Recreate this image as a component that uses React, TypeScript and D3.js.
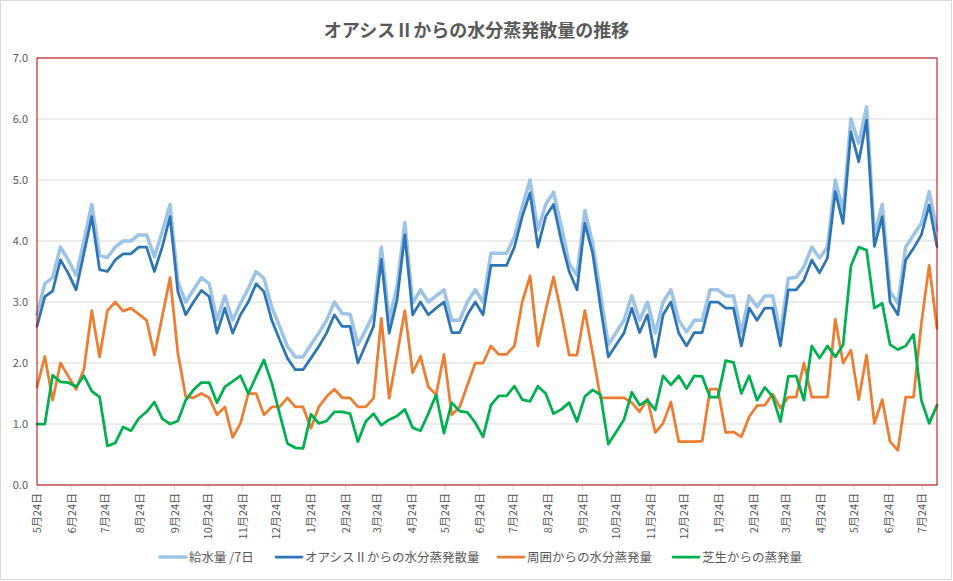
import React from "react";
import * as d3 from "d3";

const START = new Date(2018, 4, 24);
const WEEKS = 116;

const supply = [2.8, 3.3, 3.4, 3.9, 3.69, 3.44, 4.0, 4.6, 3.76, 3.73, 3.9, 4.0, 4.0, 4.1, 4.1, 3.74, 4.15, 4.6, 3.33, 3.0,
  3.2, 3.4, 3.3, 2.7, 3.1, 2.7, 2.98, 3.22, 3.5, 3.39, 2.92, 2.6, 2.27, 2.1, 2.1, 2.3, 2.49, 2.7, 3.0, 2.81,
  2.8, 2.3, 2.54, 2.81, 3.9, 2.7, 3.25, 4.3, 2.98, 3.2, 3.0, 3.1, 3.2, 2.7, 2.7, 3.0, 3.2, 3.0, 3.8, 3.8,
  3.8, 4.07, 4.56, 5.0, 4.18, 4.6, 4.8, 4.24, 3.63, 3.44, 4.5, 3.96, 3.14, 2.3, 2.5, 2.7, 3.1, 2.7, 3.0, 2.49,
  3.0, 3.2, 2.7, 2.51, 2.7, 2.7, 3.2, 3.2, 3.1, 3.1, 2.5, 3.1, 2.92, 3.1, 3.1, 2.49, 3.39, 3.4, 3.58, 3.9,
  3.72, 3.9, 5.0, 4.5, 6.0, 5.6, 6.2, 4.1, 4.6, 3.17, 2.98, 3.9, 4.1, 4.29, 4.81, 4.18];

const oasis = [2.6, 3.09, 3.18, 3.69, 3.47, 3.2, 3.8, 4.4, 3.53, 3.5, 3.69, 3.79, 3.79, 3.9, 3.9, 3.5, 3.9, 4.4, 3.17, 2.79,
  3.0, 3.19, 3.09, 2.49, 2.9, 2.49, 2.79, 3.0, 3.3, 3.17, 2.7, 2.38, 2.08, 1.89, 1.89, 2.08, 2.27, 2.49, 2.79, 2.6,
  2.6, 2.0, 2.3, 2.6, 3.7, 2.49, 3.03, 4.1, 2.79, 3.0, 2.79, 2.9, 3.0, 2.5, 2.5, 2.79, 3.0, 2.79, 3.6, 3.6,
  3.6, 3.9, 4.4, 4.79, 3.9, 4.4, 4.6, 4.0, 3.5, 3.2, 4.29, 3.8, 2.92, 2.1, 2.3, 2.49, 2.9, 2.5, 2.79, 2.1,
  2.79, 3.0, 2.49, 2.28, 2.5, 2.5, 3.0, 3.0, 2.9, 2.9, 2.28, 2.9, 2.7, 2.9, 2.9, 2.28, 3.2, 3.2, 3.36, 3.69,
  3.48, 3.72, 4.81, 4.29, 5.79, 5.3, 5.98, 3.91, 4.4, 3.0, 2.79, 3.69, 3.88, 4.1, 4.59, 3.91];

const surround = [1.61, 2.11, 1.39, 2.0, 1.78, 1.57, 1.9, 2.86, 2.1, 2.86, 3.0, 2.85, 2.9, 2.8, 2.7, 2.13, 2.76, 3.4, 2.16, 1.45,
  1.43, 1.5, 1.43, 1.15, 1.28, 0.78, 1.01, 1.5, 1.5, 1.15, 1.28, 1.28, 1.43, 1.28, 1.28, 0.93, 1.28, 1.45, 1.57, 1.43,
  1.43, 1.28, 1.28, 1.42, 2.73, 1.42, 2.13, 2.86, 1.84, 2.11, 1.61, 1.48, 2.14, 1.15, 1.28, 1.64, 2.0, 2.0, 2.28, 2.14,
  2.14, 2.28, 3.0, 3.43, 2.28, 2.87, 3.41, 2.81, 2.13, 2.13, 2.86, 2.16, 1.43, 1.43, 1.43, 1.43, 1.35, 1.2, 1.41, 0.86,
  1.01, 1.36, 0.71, 0.71, 0.71, 0.72, 1.57, 1.57, 0.86, 0.87, 0.79, 1.12, 1.3, 1.31, 1.49, 1.26, 1.44, 1.44, 2.0, 1.44,
  1.44, 1.44, 2.72, 2.0, 2.21, 1.4, 2.13, 1.01, 1.4, 0.71, 0.57, 1.44, 1.44, 2.65, 3.6, 2.57];

const turf = [1.0, 1.0, 1.8, 1.69, 1.68, 1.61, 1.79, 1.54, 1.44, 0.64, 0.69, 0.95, 0.89, 1.09, 1.2, 1.36, 1.09, 1.0, 1.05, 1.39,
  1.56, 1.68, 1.68, 1.35, 1.61, 1.7, 1.79, 1.5, 1.78, 2.05, 1.67, 1.17, 0.68, 0.61, 0.6, 1.16, 1.01, 1.05, 1.2, 1.2,
  1.17, 0.71, 1.04, 1.17, 0.98, 1.07, 1.13, 1.24, 0.94, 0.89, 1.17, 1.48, 0.85, 1.35, 1.21, 1.19, 1.02, 0.79, 1.31, 1.46,
  1.46, 1.62, 1.4, 1.37, 1.62, 1.5, 1.17, 1.24, 1.35, 1.04, 1.45, 1.56, 1.48, 0.67, 0.87, 1.07, 1.52, 1.31, 1.39, 1.23,
  1.79, 1.64, 1.79, 1.58, 1.79, 1.78, 1.44, 1.44, 2.04, 2.01, 1.5, 1.79, 1.39, 1.6, 1.45, 1.04, 1.78, 1.79, 1.39, 2.28,
  2.08, 2.28, 2.1, 2.3, 3.59, 3.9, 3.85, 2.9, 2.98, 2.3, 2.22, 2.28, 2.47, 1.39, 1.01, 1.31];

const yTicks = [0, 1, 2, 3, 4, 5, 6, 7];
const seriesNames = ["給水量 /7日", "オアシスⅡからの水分蒸発散量", "周囲からの水分蒸発量", "芝生からの蒸発量"];
const seriesColors = ["#9DC3E6", "#2E75B6", "#ED7D31", "#00B050"];
const seriesWidths = [3.5, 2.75, 2.75, 2.75];
const seriesData = [supply, oasis, surround, turf];
const title = "オアシスⅡからの水分蒸発散量の推移";

const W = 953, H = 581;
const M = { left: 37, right: 937, top: 58, bottom: 485 };
const FONT = "'Noto Sans CJK JP', 'Noto Sans', sans-serif";

export default function App() {
  const dates = d3.range(WEEKS).map((i) => d3.timeDay.offset(START, i * 7));
  const x = d3.scaleTime().domain([dates[0], dates[dates.length - 1]]).range([M.left, M.right]);
  const y = d3.scaleLinear().domain([0, 7]).range([M.bottom, M.top]);
  const monthTicks = d3.range(0, 27).map((i) => d3.timeMonth.offset(START, i));
  const line = d3.line<number>().x((_, i) => x(dates[i])).y((v) => y(v));
  const legendX = [160, 276, 498, 673];

  return (
    <svg width={W} height={H} style={{ position: "absolute", left: 0, top: 0 }} fontFamily={FONT}>
      <rect x={0.5} y={0.5} width={W - 2} height={H - 2} fill="#fff" stroke="#D9D9D9" />
      <text x={W / 2} y={37} textAnchor="middle" fontSize={18} fontWeight="bold" fill="#595959">{title}</text>
      {yTicks.map((t) => (
        <g key={t}>
          {t > 0 && <line x1={M.left} x2={M.right} y1={y(t)} y2={y(t)} stroke="#D9D9D9" strokeWidth={1} />}
          <text x={28} y={y(t) + 4} textAnchor="end" fontSize={11} fill="#595959">{t.toFixed(1)}</text>
        </g>
      ))}
      <line x1={M.left} x2={M.right} y1={M.bottom} y2={M.bottom} stroke="#D9D9D9" strokeWidth={1} />
      {monthTicks.map((d, i) => {
        const px = x(d);
        return (
          <g key={i}>
            <line x1={px} x2={px} y1={M.bottom} y2={M.bottom + 5} stroke="#D9D9D9" />
            <text transform={`translate(${px + 4},${M.bottom + 8}) rotate(-90)`} textAnchor="end" fontSize={11} fill="#595959">
              {`${d.getMonth() + 1}月24日`}
            </text>
          </g>
        );
      })}
      {seriesData.map((s, i) => (
        <path key={i} d={line(s) || ""} fill="none" stroke={seriesColors[i]} strokeWidth={seriesWidths[i]} strokeLinejoin="round" strokeLinecap="round" />
      ))}
      <rect x={M.left} y={M.top} width={M.right - M.left} height={M.bottom - M.top} fill="none" stroke="#C00000" strokeWidth={1} />
      {seriesNames.map((n, i) => (
        <g key={n}>
          <line x1={legendX[i]} x2={legendX[i] + 26} y1={557} y2={557} stroke={seriesColors[i]} strokeWidth={seriesWidths[i]} strokeLinecap="round" />
          <text x={legendX[i] + 29} y={561.5} fontSize={12.5} fill="#595959">{n}</text>
        </g>
      ))}
    </svg>
  );
}
